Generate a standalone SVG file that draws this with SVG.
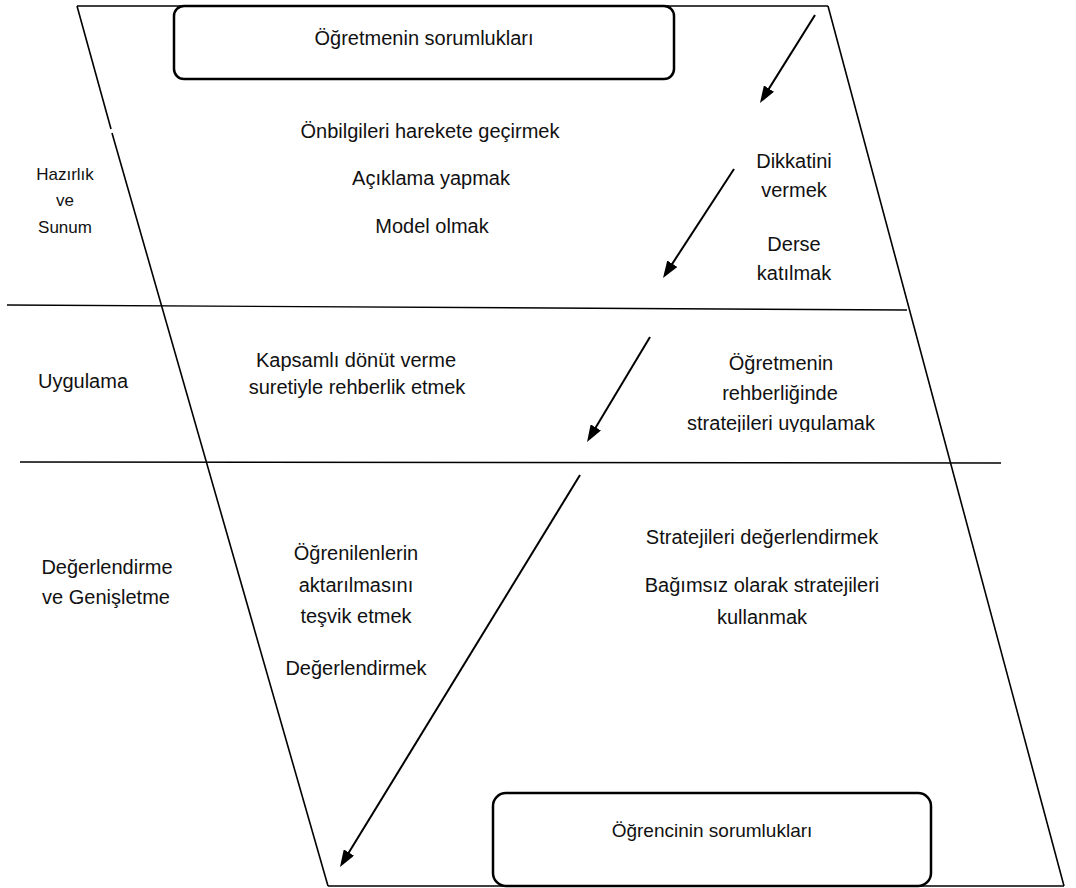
<svg xmlns="http://www.w3.org/2000/svg" width="1076" height="888" viewBox="0 0 1076 888">
<style>
text{font-family:"Liberation Sans",Arial,sans-serif;font-size:20px;fill:#111;text-anchor:middle}
.s{font-size:17px}
.b{font-size:19px}
.ln{stroke:#000;stroke-width:1.6;fill:none}
.hl{stroke:#000;stroke-width:1.4;fill:none}
.box{stroke:#000;stroke-width:2.5;fill:#fff}
.arr{stroke:#000;stroke-width:2;fill:none;marker-end:url(#ah)}
</style>
<defs>
<marker id="ah" viewBox="0 0 17 12" refX="13" refY="6" markerWidth="17" markerHeight="12" markerUnits="userSpaceOnUse" orient="auto">
<path d="M0,0 L17,6 L0,12 z" fill="#000"/>
</marker>
<clipPath id="clip1"><rect x="600" y="300" width="400" height="132"/></clipPath>
</defs>
<g id="frame">
<line class="ln" x1="77" y1="6" x2="828" y2="6"/>
<line class="ln" x1="828" y1="6" x2="1064" y2="886"/>
<line class="ln" x1="1064" y1="886" x2="328" y2="886"/>
<line class="ln" x1="328" y1="886" x2="112" y2="133"/>
<line class="ln" x1="111" y1="129" x2="77" y2="6"/>
<line class="hl" x1="7" y1="305" x2="907" y2="310"/>
<line class="hl" x1="20" y1="462" x2="1001" y2="463"/>
</g>
<g id="teacher-box">
<rect class="box" x="174" y="6" width="500" height="73" rx="10"/>
<text x="424" y="45">Öğretmenin sorumlukları</text>
</g>
<g id="student-box">
<rect class="box" x="493" y="793" width="438" height="93" rx="13"/>
<text class="b" x="712" y="837">Öğrencinin sorumlukları</text>
</g>
<g id="label-hazirlik">
<text class="s" x="65" y="180">Hazırlık</text>
<text class="s" x="65" y="206">ve</text>
<text class="s" x="65" y="233">Sunum</text>
</g>
<g id="label-uygulama"><text x="83" y="388">Uygulama</text></g>
<g id="label-degerlendirme">
<text x="107" y="574">Değerlendirme</text>
<text x="106" y="604">ve Genişletme</text>
</g>
<g id="teacher-1">
<text x="430" y="138">Önbilgileri harekete geçirmek</text>
<text x="431" y="185">Açıklama yapmak</text>
<text x="432" y="233">Model olmak</text>
</g>
<g id="teacher-2">
<text x="356" y="367">Kapsamlı dönüt verme</text>
<text x="357" y="394">suretiyle rehberlik etmek</text>
</g>
<g id="teacher-3">
<text x="356" y="560">Öğrenilenlerin</text>
<text x="356" y="592">aktarılmasını</text>
<text x="356" y="623">teşvik etmek</text>
<text x="356" y="675">Değerlendirmek</text>
</g>
<g id="student-1">
<text x="794" y="168">Dikkatini</text>
<text x="794" y="197">vermek</text>
<text x="794" y="251">Derse</text>
<text x="794" y="280">katılmak</text>
</g>
<g id="student-2">
<text x="781" y="370">Öğretmenin</text>
<text x="780" y="400">rehberliğinde</text>
<text x="781" y="430" clip-path="url(#clip1)">stratejileri uygulamak</text>
</g>
<g id="student-3">
<text x="762" y="544">Stratejileri değerlendirmek</text>
<text x="762" y="592">Bağımsız olarak stratejileri</text>
<text x="762" y="624">kullanmak</text>
</g>
<g id="connectors">
<line class="arr" x1="815" y1="15" x2="762.1" y2="99.6"/>
<line class="arr" x1="734" y1="169" x2="665.2" y2="274.6"/>
<line class="arr" x1="650" y1="337" x2="589.1" y2="438.6"/>
<line class="arr" x1="580" y1="475" x2="342.1" y2="863.6"/>
</g>
</svg>
